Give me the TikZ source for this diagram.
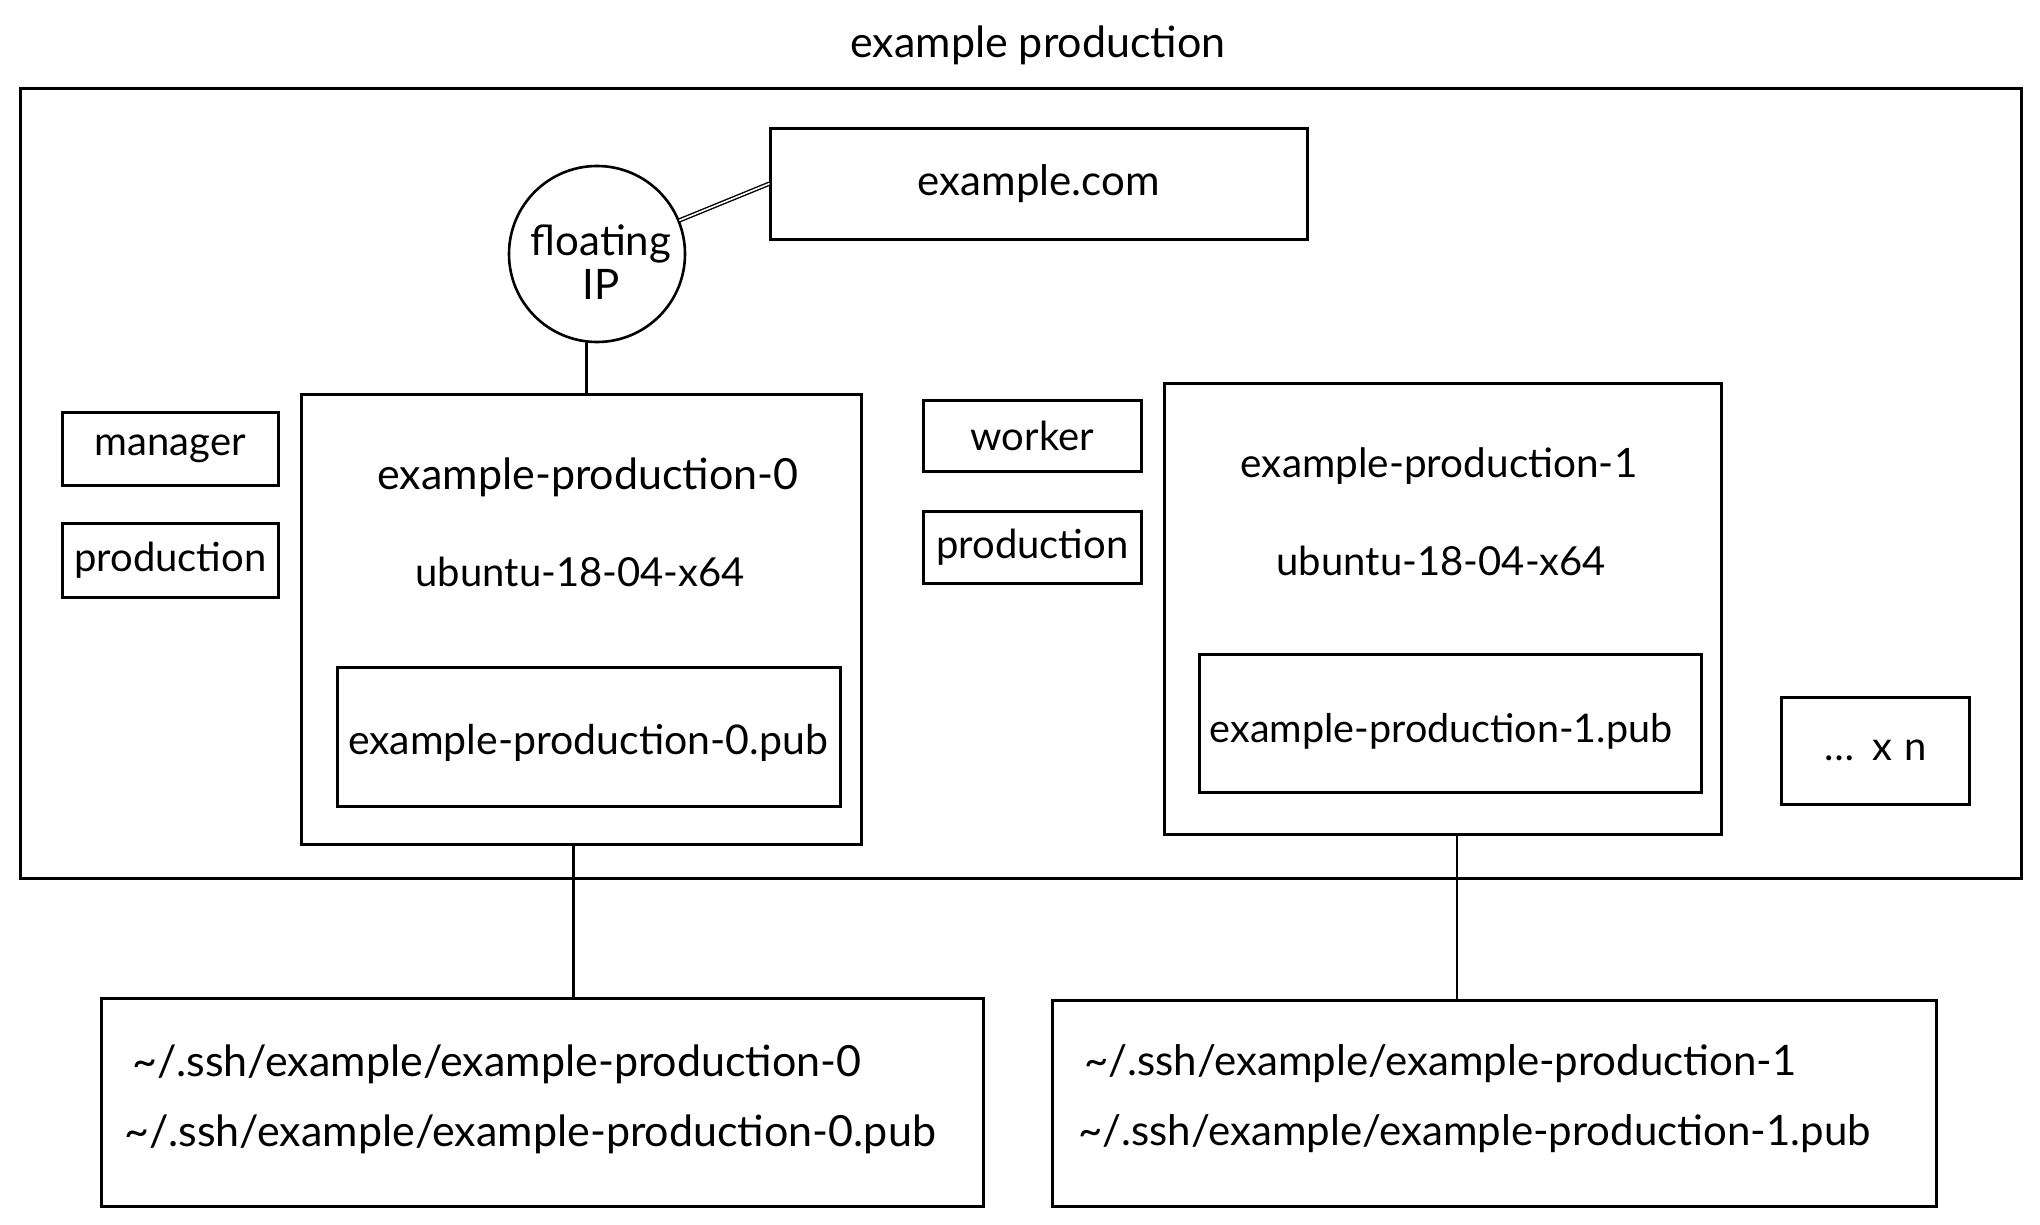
\documentclass[tikz,border=0pt]{standalone}
\usepackage{fontspec}
\setmainfont{Lato}
\begin{document}
\begin{tikzpicture}[x=1pt,y=-1pt,
  ink/.style={line width=2.6pt,black},
  box/.style={ink,draw,rectangle,inner sep=0pt,anchor=north west},
  lbl/.style={font=\fontsize{43}{48}\selectfont,inner sep=0pt},
  mid/.style={font=\fontsize{40}{46}\selectfont,inner sep=0pt},
  tag/.style={box,font=\fontsize{40}{46}\selectfont},
  conn/.style={ink,line cap=round}]
\useasboundingbox (0,0) rectangle (2040,1225);
% title and outer frame
\node[lbl] (title) at (1038,45) {example production};
\node[box,minimum width=2001pt,minimum height=790pt] (outer) at (19,87) {};
% domain + floating IP
\node[box,minimum width=537pt,minimum height=111pt,font=\fontsize{42}{48}\selectfont] (domain) at (769,127) {example.com};
\node[ink,draw,circle,minimum size=176pt,inner sep=0pt] (fip) at (597,254) {};
\node[lbl,align=center,font=\fontsize{42}{46}\selectfont] (fiptxt) at (601,262) {floating\\[-2pt]IP};
% manager side
\node[tag,minimum width=216pt,minimum height=73pt] (tman) at (61,411) {manager};
\node[tag,minimum width=216pt,minimum height=74pt] (tprod0) at (61,522) {production};
\node[box,minimum width=560pt,minimum height=450pt] (box0) at (300,393) {};
\node[lbl] (name0) at (588,477) {example-production-0};
\node[mid] (os0) at (580,572) {ubuntu-18-04-x64};
\node[box,minimum width=503pt,minimum height=139pt] (pub0) at (336,666) {};
\node[lbl,font=\fontsize{41}{46}\selectfont] (pub0txt) at (588,743) {example-production-0.pub};
% worker side
\node[tag,minimum width=218pt,minimum height=71pt] (twork) at (922,399) {worker};
\node[tag,minimum width=218pt,minimum height=72pt] (tprod1) at (922,510) {production};
\node[box,minimum width=557pt,minimum height=451pt] (box1) at (1163,382) {};
\node[lbl,font=\fontsize{40.5}{46}\selectfont] (name1) at (1439,466) {example-production-1};
\node[mid] (os1) at (1441,561) {ubuntu-18-04-x64};
\node[box,minimum width=502pt,minimum height=138pt] (pub1) at (1198,653) {};
\node[lbl,font=\fontsize{39.5}{46}\selectfont] (pub1txt) at (1441,731) {example-production-1.pub};
% more
\node[box,minimum width=188pt,minimum height=107pt,font=\fontsize{40}{46}\selectfont] (more) at (1780,696) {\dots\hspace{0.45em}x\hspace{0.3em}n};
% key files
\node[box,minimum width=882pt,minimum height=208pt] (key0) at (100,997) {};
\node[lbl,anchor=west] (k0a) at (132,1064) {\textasciitilde/.ssh/example/example-production-0};
\node[lbl,anchor=west] (k0b) at (124,1134) {\textasciitilde/.ssh/example/example-production-0.pub};
\node[box,minimum width=884pt,minimum height=206pt] (key1) at (1051,999) {};
\node[lbl,anchor=west,font=\fontsize{42}{48}\selectfont] (k1a) at (1084,1064) {\textasciitilde/.ssh/example/example-production-1};
\node[lbl,anchor=west,font=\fontsize{42}{48}\selectfont] (k1b) at (1078,1134) {\textasciitilde/.ssh/example/example-production-1.pub};
% connectors
\draw[conn,double,double distance=1.6pt,line width=1.4pt] (fip) -- (domain.west);
\draw[conn] (fip.south -| box0.north) ++(5,0) coordinate (fipb) -- (fipb |- box0.north);
\draw[conn] ([xshift=-8pt]box0.south) -- ([xshift=-8pt]box0.south |- key0.north);
\draw[conn] ([xshift=14pt]box1.south) -- ([xshift=14pt]box1.south |- key1.north);
\end{tikzpicture}
\end{document}
